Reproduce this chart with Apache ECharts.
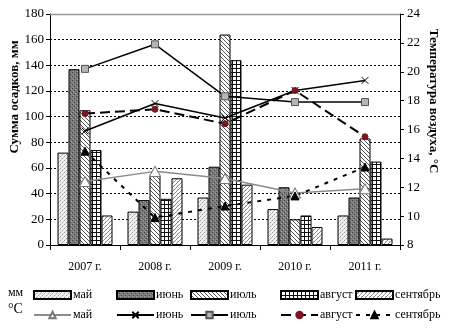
<!DOCTYPE html>
<html>
<head>
<meta charset="utf-8">
<script src="https://cdn.jsdelivr.net/npm/echarts@6/dist/echarts.min.js"></script>
<style>
html, body { margin: 0; padding: 0; background: #fff; }
#chart { width: 453px; height: 331px; }
</style>
</head>
<body>
<div id="chart"></div>
<script>
var years = ['2007 г.', '2008 г.', '2009 г.', '2010 г.', '2011 г.'];
var months = ['май', 'июнь', 'июль', 'август', 'сентябрь'];

// осадки, мм
var rainMay = [72, 26, 37, 28, 23];
var rainJun = [137, 35, 61, 45, 37];
var rainJul = [105, 54, 164, 20, 83];
var rainAug = [74, 36, 144, 23, 65];
var rainSep = [23, 52, 47, 14, 5];

// температура, °С
var tempMay = [12.4, 13.1, 12.6, 11.6, 11.9];
var tempJun = [15.9, 17.8, 16.8, 18.7, 19.4];
var tempJul = [20.2, 21.9, 18.3, 17.9, 17.9];
var tempAug = [17.1, 17.4, 16.4, 18.7, 15.5];
var tempSep = [14.5, 9.9, 10.7, 11.4, 13.4];

var rain = [rainMay, rainJun, rainJul, rainAug, rainSep];
var temp = [tempMay, tempJun, tempJul, tempAug, tempSep];

function makePattern(kind) {
    var c = document.createElement('canvas');
    c.width = 4; c.height = 4;
    var g = c.getContext('2d');
    g.fillStyle = '#fff';
    g.fillRect(0, 0, 4, 4);
    if (kind == 0) {
        g.fillStyle = '#f0f0f0';
        g.fillRect(0, 0, 4, 4);
        g.fillStyle = '#999';
        g.fillRect(0, 0, 1, 1); g.fillRect(2, 2, 1, 1);
        g.fillStyle = '#c8c8c8';
        g.fillRect(1, 3, 1, 1); g.fillRect(3, 1, 1, 1);
    } else if (kind == 1) {
        g.fillStyle = '#7a7a7a';
        g.fillRect(0, 0, 4, 4);
        g.fillStyle = '#444';
        g.fillRect(0, 0, 1, 1); g.fillRect(2, 2, 1, 1);
        g.fillStyle = '#a0a0a0';
        g.fillRect(1, 3, 1, 1); g.fillRect(3, 1, 1, 1);
    } else if (kind == 2) {
        g.fillStyle = '#555';
        for (var i = 0; i < 4; i++) g.fillRect(i, i, 1, 1);
    } else if (kind == 3) {
        g.fillStyle = '#111';
        g.fillRect(0, 0, 4, 1);
        g.fillRect(0, 0, 1, 4);
    } else {
        g.fillStyle = '#888';
        for (var j = 0; j < 4; j++) g.fillRect(3 - j, j, 1, 1);
        g.fillStyle = '#ccc';
        g.fillRect(1, 1, 1, 1);
    }
    return {image: c, repeat: 'repeat'};
}

var serif = 'Liberation Serif';

var lineStyles = [
    {color: '#8a8a8a', width: 1.5, type: 'solid', symbol: 'triangle', size: [11, 10], fill: '#fff', border: '#777'},
    {color: '#000', width: 1.5, type: 'solid', symbol: 'path://M0,0L10,10M10,0L0,10', size: 7, fill: 'none', border: '#000'},
    {color: '#000', width: 1.5, type: 'solid', symbol: 'rect', size: 7, fill: '#b5b5b5', border: '#555'},
    {color: '#000', width: 2, type: [10, 5], symbol: 'circle', size: 6, fill: '#7a1522', border: '#7a1522'},
    {color: '#000', width: 2, type: [4, 6], symbol: 'triangle', size: 8, fill: '#000', border: '#000'}
];

var series = [];
for (var k = 0; k < 5; k++) {
    series.push({
        name: months[k] + ' (мм)',
        type: 'bar',
        barWidth: 11,
        barGap: '0%',
        data: rain[k],
        itemStyle: {color: makePattern(k), borderColor: '#000', borderWidth: 1, borderRadius: 0}
    });
}
for (var m = 0; m < 5; m++) {
    var s = lineStyles[m];
    series.push({
        name: months[m] + ' (°С)',
        type: 'line',
        yAxisIndex: 1,
        data: temp[m],
        symbol: s.symbol,
        symbolSize: s.size,
        showAllSymbol: true,
        z: 5,
        lineStyle: {color: s.color, width: s.width, type: s.type},
        itemStyle: {color: s.fill, borderColor: s.border, borderWidth: 1}
    });
}

var legendLeft = [33, 116, 190, 280, 355];
var legends = [];
for (var n = 0; n < 5; n++) {
    legends.push({
        orient: 'vertical',
        left: legendLeft[n],
        top: 289,
        padding: 0,
        itemWidth: 37,
        itemHeight: 8,
        itemGap: 8,
        data: [
            {name: months[n] + ' (мм)', icon: 'path://M0,0L37,0L37,8L0,8Z'},
            {name: months[n] + ' (°С)'}
        ],
        formatter: function (name) { return name.split(' (')[0]; },
        textStyle: {fontFamily: serif, fontSize: 12, color: '#000', padding: [0, 0, 0, -3]}
    });
}

var chart = echarts.init(document.getElementById('chart'));
chart.setOption({
    animation: false,
    backgroundColor: '#fff',
    legend: legends,
    grid: {left: 50, right: 53, top: 14, bottom: 86},
    xAxis: {
        type: 'category',
        data: years,
        axisLine: {lineStyle: {color: '#000'}},
        axisTick: {show: true, length: 5, lineStyle: {color: '#000'}},
        axisLabel: {fontFamily: serif, fontSize: 12, color: '#000', margin: 16}
    },
    yAxis: [
        {
            type: 'value',
            min: 0, max: 180, interval: 20,
            axisLine: {show: true, lineStyle: {color: '#000'}},
            axisTick: {show: true, length: 4, lineStyle: {color: '#000'}},
            axisLabel: {fontFamily: serif, fontSize: 13, color: '#000', margin: 6},
            splitLine: {show: true, lineStyle: {color: '#000', type: [2, 2], width: 1}}
        },
        {
            type: 'value',
            min: 8, max: 24, interval: 2,
            position: 'right',
            axisLine: {show: true, lineStyle: {color: '#000'}},
            axisTick: {show: true, length: 4, lineStyle: {color: '#000'}},
            axisLabel: {fontFamily: serif, fontSize: 13, color: '#000', margin: 7},
            splitLine: {show: false}
        }
    ],
    graphic: [
        {type: 'line', shape: {x1: 50, y1: 14.5, x2: 400, y2: 14.5}, style: {stroke: '#999', lineWidth: 1.5}, z: 10},
        {type: 'text', x: 15, y: 97, rotation: Math.PI / 2,
            style: {text: 'Сумма осадков, мм', font: 'bold 13px ' + serif, fill: '#000', align: 'center', verticalAlign: 'middle'}},
        {type: 'text', x: 433, y: 101, rotation: -Math.PI / 2,
            style: {text: 'Температура воздуха, °С', font: 'bold 13px ' + serif, fill: '#000', align: 'center', verticalAlign: 'middle'}},
        {type: 'text', x: 8, y: 287, style: {text: 'мм', font: '12px ' + serif, fill: '#000'}},
        {type: 'text', x: 8, y: 302, style: {text: '°С', font: '14px ' + serif, fill: '#000'}}
    ],
    series: series
});
</script>
</body>
</html>
